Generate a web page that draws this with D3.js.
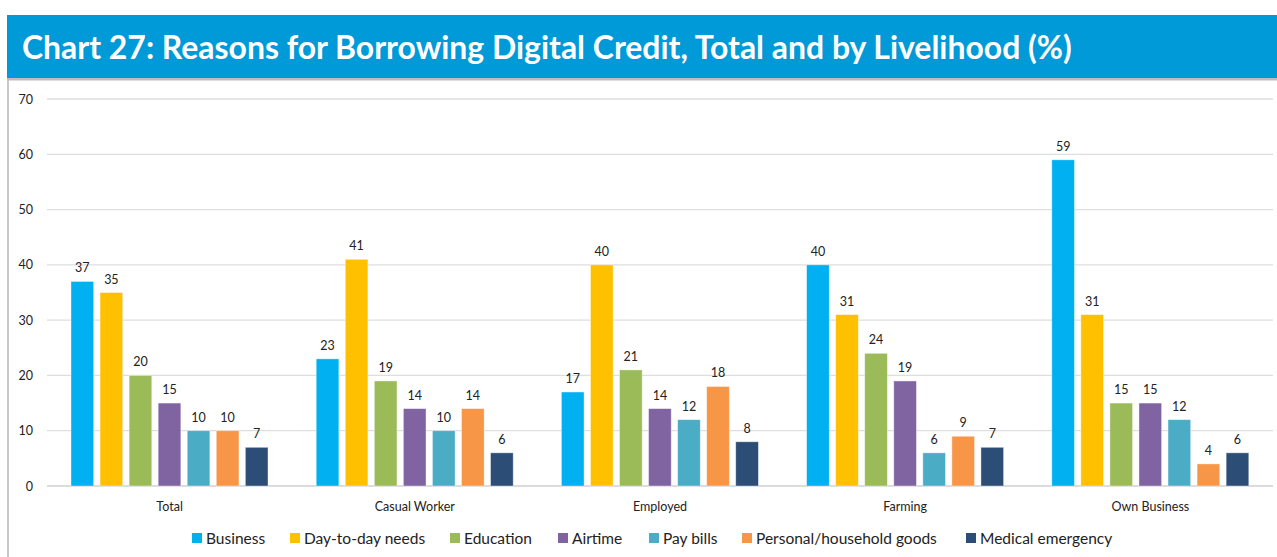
<!DOCTYPE html>
<html><head><meta charset="utf-8">
<script src="https://cdn.jsdelivr.net/npm/d3@7"></script>
<style>
html,body{margin:0;padding:0;background:#fff;}
svg{display:block;}
</style></head>
<body>
<svg id="c" width="1277" height="557"></svg>
<script>
const title = "Chart 27: Reasons for Borrowing Digital Credit, Total and by Livelihood (%)";
const categories = ["Total","Casual Worker","Employed","Farming","Own Business"];
const seriesNames = ["Business","Day-to-day needs","Education","Airtime","Pay bills","Personal/household goods","Medical emergency"];
const seriesColors = ["#00b0f0","#ffc000","#9bbb59","#8064a2","#4bacc6","#f79646","#2c4d75"];
const business   = [37,23,17,40,59];
const dayToDay   = [35,41,40,31,31];
const education  = [20,19,21,24,15];
const airtime    = [15,14,14,19,15];
const payBills   = [10,10,12,6,12];
const personal   = [10,14,18,9,4];
const medical    = [7,6,8,7,6];
const seriesValues = [business,dayToDay,education,airtime,payBills,personal,medical];
const yTicks = [0,10,20,30,40,50,60,70];

const svg = d3.select("#c");
const font = "Lato, 'Open Sans', sans-serif";

// banner
svg.append("rect").attr("x",7).attr("y",78).attr("width",1270).attr("height",2.5).attr("fill","#bdbdbd");
svg.append("rect").attr("x",7).attr("y",15).attr("width",1270).attr("height",63).attr("fill","#009ad9");
const t = svg.append("text").attr("x",22).attr("y",59).attr("fill","#fff")
  .attr("font-family",font).attr("font-weight","bold").attr("font-size",30).text(title);
const tw = t.node().getComputedTextLength();
t.attr("font-size", 30*1050/tw);

// chart frame
svg.append("rect").attr("x",7).attr("y",80).attr("width",2).attr("height",477).attr("fill","#c8c8c8");

const x0 = d3.scaleBand().domain(categories).range([47,1273]).paddingInner(0).paddingOuter(0);
const x1 = d3.scaleBand().domain(seriesNames).range([24,221]).paddingInner(0.22).paddingOuter(0);
const y = d3.scaleLinear().domain([0,70]).range([486,99]);

const grid = svg.append("g");
yTicks.forEach(v=>{
  grid.append("line").attr("x1",47).attr("x2",1273).attr("y1",y(v)).attr("y2",y(v))
    .attr("stroke",v===0?"#d0d0d0":"#dedede").attr("stroke-width",1.3);
});
const yAxis = d3.axisLeft(y).tickValues(yTicks).tickSize(0).tickPadding(0);
const ya = svg.append("g").attr("transform","translate(33,0)").call(yAxis);
ya.select(".domain").remove();
ya.selectAll("text").attr("font-family",font).attr("font-size",12.5).attr("fill","#222");

const xAxis = d3.axisBottom(x0).tickSize(0).tickPadding(0);
const xa = svg.append("g").attr("transform","translate(0,502)").call(xAxis);
xa.select(".domain").remove();
xa.selectAll("text").attr("font-family",font).attr("font-size",12.5).attr("fill","#222");

categories.forEach((c,ci)=>{
  const g = svg.append("g").attr("transform",`translate(${x0(c)},0)`);
  seriesNames.forEach((s,si)=>{
    const v = seriesValues[si][ci];
    g.append("rect").attr("x",x1(s)).attr("width",x1.bandwidth())
      .attr("y",y(v)).attr("height",y(0)-y(v)).attr("fill",seriesColors[si])
      .attr("stroke","#ffffff").attr("stroke-opacity",0.5).attr("stroke-width",0.8);
    g.append("text").attr("x",x1(s)+x1.bandwidth()/2).attr("y",y(v)-9)
      .attr("text-anchor","middle").attr("font-family",font).attr("font-size",12.5).attr("fill","#222").text(v);
  });
});

// legend
const legendX = [192,290,450,558,649,742,966];
const lg = svg.append("g");
seriesNames.forEach((s,i)=>{
  lg.append("rect").attr("x",legendX[i]).attr("y",533).attr("width",10).attr("height",10).attr("fill",seriesColors[i]);
  lg.append("text").attr("x",legendX[i]+14).attr("y",544).attr("font-family",font).attr("font-size",15.5).attr("fill","#222").text(s);
});
</script>
</body></html>
